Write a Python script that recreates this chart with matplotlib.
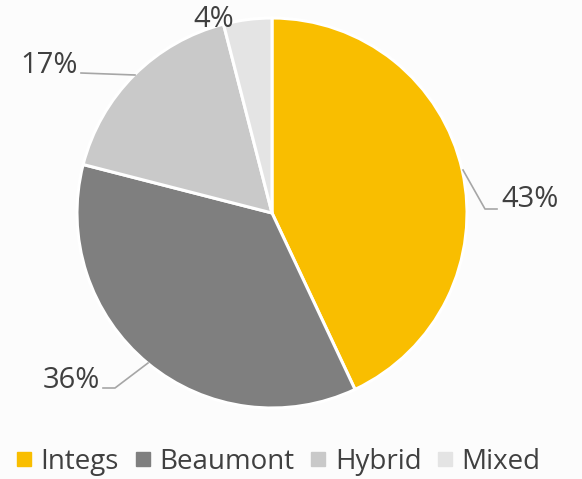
import matplotlib.pyplot as plt
from matplotlib.lines import Line2D

categories = ['Integs', 'Beaumont', 'Hybrid', 'Mixed']
shares = [43, 36, 17, 4]
colors = ['#F9BE00', '#7F7F7F', '#C9C9C9', '#E4E4E4']
pct_labels = ['43%', '36%', '17%', '4%']

plt.rcParams['font.family'] = ['Open Sans', 'DejaVu Sans']
text_color = '#404040'

fig = plt.figure(figsize=(5.82, 4.79), dpi=100)
fig.patch.set_facecolor('#FCFCFC')
ax = fig.add_axes([0, 0, 1, 1])

# pie in pixel coordinates (y flipped)
cx, cy, r = 272, 479 - 213, 195
ax.pie(shares, colors=colors, startangle=90, counterclock=False,
       center=(cx, cy), radius=r, frame=True,
       wedgeprops=dict(edgecolor='white', linewidth=2.2))
ax.set_xlim(0, 582)
ax.set_ylim(0, 479)
ax.set_aspect('equal')
ax.axis('off')

# data labels and leader lines
lead = '#A6A6A6'
fs = 21
ax.plot([463, 485, 497], [479 - 170, 479 - 209, 479 - 209], color=lead, lw=1.2)
ax.text(501, 479 - 199, pct_labels[0], fontsize=fs, color=text_color, va='center', ha='left')

ax.plot([148, 115, 103], [479 - 363, 479 - 388, 479 - 388], color=lead, lw=1.2)
ax.text(100, 479 - 380, pct_labels[1], fontsize=fs, color=text_color, va='center', ha='right')

ax.plot([135, 81], [479 - 75, 479 - 73], color=lead, lw=1.2)
ax.text(78, 479 - 65, pct_labels[2], fontsize=fs, color=text_color, va='center', ha='right')

ax.text(214, 479 - 19, pct_labels[3], fontsize=fs, color=text_color, va='center', ha='center')

handles = [Line2D([], [], marker='s', linestyle='none', markersize=10,
                  markerfacecolor=c, markeredgecolor=c) for c in colors]
fig.legend(handles, categories, loc='center', bbox_to_anchor=(0.478, 1 - 462 / 479),
           ncol=4, frameon=False, fontsize=20, handlelength=0.6, handletextpad=0.3,
           columnspacing=0.55, labelcolor=text_color)

fig.savefig('out.png', dpi=100, facecolor=fig.get_facecolor())
